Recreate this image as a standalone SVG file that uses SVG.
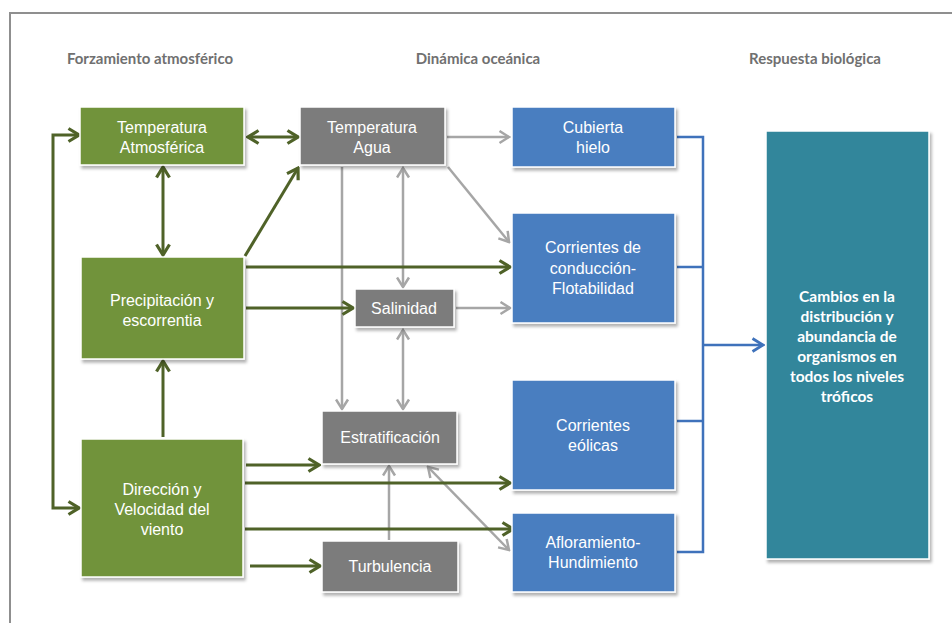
<svg xmlns="http://www.w3.org/2000/svg" width="952" height="623" viewBox="0 0 952 623">
  <style>
    .frame { fill: none; stroke: #8f8f8f; stroke-width: 2; }
    .hdr { font-family: "Lato", "Liberation Sans", sans-serif; font-weight: bold; font-size: 15px; fill: #707070; text-anchor: middle; }
    .box { stroke: #ffffff; stroke-width: 1.5; filter: url(#shadow); }
    .atm { fill: #71933a; }
    .ocn { fill: #7b7b7b; }
    .dyn { fill: #4a7ec0; }
    .bio { fill: #31869b; }
    .lbl { font-family: "Liberation Sans", Arial, sans-serif; font-size: 16px; fill: #ffffff; text-anchor: middle; }
    .lblb { font-family: "Lato", "Liberation Sans", sans-serif; font-weight: bold; font-size: 15.5px; fill: #ffffff; text-anchor: middle; }
    .cg { fill: none; stroke: #4f6228; stroke-width: 3; }
    .cs { fill: none; stroke: #a6a6a6; stroke-width: 2.5; }
    .cb { fill: none; stroke: #3f72bb; stroke-width: 2.5; }
  </style>
  <defs>
    <filter id="shadow" x="-10%" y="-10%" width="130%" height="130%">
      <feDropShadow dx="2" dy="3" stdDeviation="1.8" flood-color="#000000" flood-opacity="0.3"/>
    </filter>
    <marker id="ag" viewBox="0 0 14 16" refX="12" refY="8" markerWidth="14" markerHeight="16" markerUnits="userSpaceOnUse" orient="auto-start-reverse">
      <path d="M1.5,1.5 L12,8 L1.5,14.5" fill="none" stroke="#4f6228" stroke-width="3.2"/>
    </marker>
    <marker id="as" viewBox="0 0 13 15" refX="11" refY="7.5" markerWidth="13" markerHeight="15" markerUnits="userSpaceOnUse" orient="auto-start-reverse">
      <path d="M1.5,1.5 L11,7.5 L1.5,13.5" fill="none" stroke="#a6a6a6" stroke-width="2.5"/>
    </marker>
    <marker id="ab" viewBox="0 0 14 16" refX="12" refY="8" markerWidth="14" markerHeight="16" markerUnits="userSpaceOnUse" orient="auto-start-reverse">
      <path d="M1.5,1.5 L12,8 L1.5,14.5" fill="none" stroke="#3f72bb" stroke-width="2.8"/>
    </marker>
  </defs>

  <rect width="952" height="623" fill="#ffffff"/>
  <path class="frame" d="M10,623 V13 H952"/>

  <!-- column headings -->
  <text class="hdr" x="150" y="64">Forzamiento atmosférico</text>
  <text class="hdr" x="478" y="64">Dinámica oceánica</text>
  <text class="hdr" x="815" y="64">Respuesta biológica</text>

  <g id="connectors">
    <!-- ocean-side (grey) links -->
    <path class="cs" d="M447,137 H509" marker-end="url(#as)"/>
    <path class="cs" d="M448,167 L509,242" marker-end="url(#as)"/>
    <path class="cs" d="M342,167 V409" marker-end="url(#as)"/>
    <path class="cs" d="M403,168 V287" marker-start="url(#as)" marker-end="url(#as)"/>
    <path class="cs" d="M403,330 V409" marker-start="url(#as)" marker-end="url(#as)"/>
    <path class="cs" d="M456,308 H510" marker-end="url(#as)"/>
    <path class="cs" d="M389,540 V466" marker-end="url(#as)"/>
    <path class="cs" d="M428,467 L509,550" marker-start="url(#as)" marker-end="url(#as)"/>

    <!-- atmospheric forcing (green) links -->
    <path class="cg" d="M79,135 H53 V508 H79" marker-start="url(#ag)" marker-end="url(#ag)"/>
    <path class="cg" d="M248,137 H298" marker-start="url(#ag)" marker-end="url(#ag)"/>
    <path class="cg" d="M163,167 V255" marker-start="url(#ag)" marker-end="url(#ag)"/>
    <path class="cg" d="M245,256 L298,168" marker-end="url(#ag)"/>
    <path class="cg" d="M246,267 H510" marker-end="url(#ag)"/>
    <path class="cg" d="M246,308 H353" marker-end="url(#ag)"/>
    <path class="cg" d="M163,437 V361" marker-end="url(#ag)"/>
    <path class="cg" d="M246,465 H319" marker-end="url(#ag)"/>
    <path class="cg" d="M245,483 H510" marker-end="url(#ag)"/>
    <path class="cg" d="M245,529 H513" marker-end="url(#ag)"/>
    <path class="cg" d="M250,566 H320" marker-end="url(#ag)"/>

    <!-- dynamics to biological response (blue) -->
    <path class="cb" d="M677,137 H703 V552 H677"/>
    <path class="cb" d="M677,267 H703"/>
    <path class="cb" d="M677,421 H703"/>
    <path class="cb" d="M703,345 H763" marker-end="url(#ab)"/>
  </g>

  <g id="temp-atm">
    <rect class="box atm" x="80" y="107" width="164" height="58"/>
    <text class="lbl" x="162" y="133">Temperatura</text>
    <text class="lbl" x="162" y="153">Atmosférica</text>
  </g>
  <g id="precip">
    <rect class="box atm" x="81" y="257" width="163" height="102"/>
    <text class="lbl" x="162" y="306">Precipitación y</text>
    <text class="lbl" x="162" y="326">escorrentia</text>
  </g>
  <g id="viento">
    <rect class="box atm" x="81" y="439" width="162" height="138"/>
    <text class="lbl" x="162" y="495">Dirección y</text>
    <text class="lbl" x="162" y="515">Velocidad del</text>
    <text class="lbl" x="162" y="535">viento</text>
  </g>

  <g id="temp-agua">
    <rect class="box ocn" x="300" y="107" width="145" height="58"/>
    <text class="lbl" x="372" y="133">Temperatura</text>
    <text class="lbl" x="372" y="153">Agua</text>
  </g>
  <g id="salinidad">
    <rect class="box ocn" x="355" y="289" width="99" height="38"/>
    <text class="lbl" x="404" y="314">Salinidad</text>
  </g>
  <g id="estratificacion">
    <rect class="box ocn" x="322" y="411" width="135" height="53"/>
    <text class="lbl" x="390" y="443">Estratificación</text>
  </g>
  <g id="turbulencia">
    <rect class="box ocn" x="322" y="541" width="136" height="51"/>
    <text class="lbl" x="390" y="572">Turbulencia</text>
  </g>

  <g id="hielo">
    <rect class="box dyn" x="512" y="107" width="163" height="60"/>
    <text class="lbl" x="593" y="133">Cubierta</text>
    <text class="lbl" x="593" y="153">hielo</text>
  </g>
  <g id="conduccion">
    <rect class="box dyn" x="512" y="213" width="163" height="110"/>
    <text class="lbl" x="593" y="253">Corrientes de</text>
    <text class="lbl" x="593" y="274">conducción-</text>
    <text class="lbl" x="593" y="294">Flotabilidad</text>
  </g>
  <g id="eolicas">
    <rect class="box dyn" x="512" y="380" width="163" height="110"/>
    <text class="lbl" x="593" y="431">Corrientes</text>
    <text class="lbl" x="593" y="451">eólicas</text>
  </g>
  <g id="afloramiento">
    <rect class="box dyn" x="512" y="513" width="163" height="79"/>
    <text class="lbl" x="593" y="548">Afloramiento-</text>
    <text class="lbl" x="593" y="568">Hundimiento</text>
  </g>

  <g id="respuesta">
    <rect class="box bio" x="766" y="131" width="163" height="428"/>
    <text class="lblb" x="847" y="302">Cambios en la</text>
    <text class="lblb" x="847" y="322">distribución y</text>
    <text class="lblb" x="847" y="342">abundancia de</text>
    <text class="lblb" x="847" y="362">organismos en</text>
    <text class="lblb" x="847" y="382">todos los niveles</text>
    <text class="lblb" x="847" y="402">tróficos</text>
  </g>
</svg>
